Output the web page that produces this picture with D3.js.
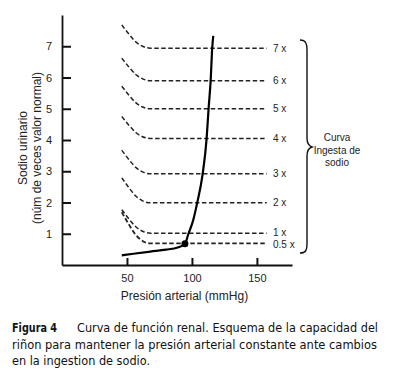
<!DOCTYPE html>
<html>
<head>
<meta charset="utf-8">
<script src="https://cdn.jsdelivr.net/npm/d3@7"></script>
<style>
  body { margin: 0; background: #fff; }
  svg { display: block; }
</style>
</head>
<body>
<svg id="chart" width="394" height="378"></svg>
<script>
// levels of sodium intake (label and where the dashed line sits)
let intakeLabels = ['7 x', '6 x', '5 x', '4 x', '3 x', '2 x', '1 x', '0.5 x']
let intakeLevels = [6.94, 5.9, 5.0, 4.05, 2.92, 1.99, 1.02, 0.69]
// how high each dashed curve starts above its level at the left
let intakeRise = [0.74, 0.72, 0.72, 0.7, 0.75, 0.8, 0.75, 1.0]
// shape of the shoulder on the left of each dashed curve (0..1 of the rise)
let shoulderP = [46, 49, 52, 57, 62, 68, 157.5]
let shoulderK = [1, 0.78, 0.57, 0.26, 0.08, 0, 0]

// renal function curve (pressure mmHg, urinary sodium)
let renalP = [46, 55, 68, 80, 89, 94.6, 97, 101, 104, 108.2, 111.3, 112.8, 114.4, 115.6, 116.4]
let renalV = [0.31, 0.36, 0.43, 0.49, 0.56, 0.67, 0.96, 1.44, 1.98, 2.9, 4.05, 5.0, 5.9, 6.94, 7.33]
let eqPoint = [94.6, 0.68]

let xTicks = [50, 100, 150]
let yTicks = [1, 2, 3, 4, 5, 6, 7]

let svg = d3.select('#chart')
let font = '"Liberation Sans", Arial, sans-serif'

let x = d3.scaleLinear().domain([0, 177]).range([62, 292])
let y = d3.scaleLinear().domain([0, 8]).range([265, 15])

// axes
let yAxis = svg.append('g').attr('transform', 'translate(' + x(0) + ',0)')
  .call(d3.axisLeft(y).tickValues(yTicks).tickSize(-9).tickSizeOuter(0).tickPadding(9).tickFormat(d3.format('d')))
let xAxis = svg.append('g').attr('transform', 'translate(0,' + y(0) + ')')
  .call(d3.axisBottom(x).tickValues(xTicks).tickSize(-7).tickSizeOuter(0).tickPadding(9))

svg.selectAll('.domain').attr('stroke', '#111').attr('stroke-width', 1.8)
svg.selectAll('.tick line').attr('stroke', '#111').attr('stroke-width', 2)
svg.selectAll('.tick text').attr('font-family', font).attr('font-size', 11).attr('fill', '#222')
yAxis.selectAll('.tick text').attr('text-anchor', 'middle').attr('dx', -4)

// dashed intake curves
let dashLine = d3.line()
  .x(d => x(d[0]))
  .y(d => y(d[1]))
  .curve(d3.curveMonotoneX)

intakeLevels.forEach((lvl, i) => {
  let pts = shoulderP.map((p, j) => [p, lvl + intakeRise[i] * shoulderK[j]])
  svg.append('path')
    .attr('d', dashLine(pts))
    .attr('fill', 'none')
    .attr('stroke', '#222')
    .attr('stroke-width', i == 7 ? 1.8 : 1.5)
    .attr('stroke-dasharray', '4.5,2.5')
})

// labels at the right of the dashed lines
let labelDy = [0, 0, 0, 0, 0, 0, -1, 1]
svg.selectAll('.lvl-label')
  .data(intakeLabels)
  .enter()
  .append('text')
  .attr('class', 'lvl-label')
  .attr('x', 273)
  .attr('y', (d, i) => y(intakeLevels[i]) + 3.5 + labelDy[i])
  .attr('font-family', font)
  .attr('font-size', 10)
  .attr('fill', '#222')
  .text(d => d)

// renal function curve
let renalLine = d3.line()
  .x((d, i) => x(renalP[i]))
  .y(d => y(d))
  .curve(d3.curveMonotoneX)

svg.append('path')
  .attr('d', renalLine(renalV))
  .attr('fill', 'none')
  .attr('stroke', '#000')
  .attr('stroke-width', 2.2)

svg.append('circle')
  .attr('cx', x(eqPoint[0]))
  .attr('cy', y(eqPoint[1]))
  .attr('r', 3.5)
  .attr('fill', '#000')

// curly brace
svg.append('path')
  .attr('d', 'M300,40 C306,40 307,44 307,50 L307,138 C307,144 309,146 312,147 C309,148 307,150 307,156 L307,244 C307,250 306,253 300,253')
  .attr('fill', 'none')
  .attr('stroke', '#111')
  .attr('stroke-width', 1.4)

let braceText = ['Curva', 'Ingesta de', 'sodio']
svg.selectAll('.brace-text')
  .data(braceText)
  .enter()
  .append('text')
  .attr('x', 337)
  .attr('y', (d, i) => 141 + i * 12.5)
  .attr('text-anchor', 'middle')
  .attr('font-family', font)
  .attr('font-size', 10)
  .attr('fill', '#222')
  .text(d => d)

// axis titles
svg.append('text')
  .attr('x', 184.5)
  .attr('y', 300)
  .attr('text-anchor', 'middle')
  .attr('font-family', font)
  .attr('font-size', 12)
  .attr('fill', '#222')
  .text('Presión arterial (mmHg)')

let yTitle = svg.append('text')
  .attr('transform', 'translate(27,148) rotate(-90)')
  .attr('text-anchor', 'middle')
  .attr('font-family', font)
  .attr('font-size', 12)
  .attr('fill', '#222')
yTitle.append('tspan').attr('x', 0).attr('y', 0).text('Sodio urinario')
yTitle.append('tspan').attr('x', 0).attr('y', 13.5).text('(núm de veces valor normal)')

// caption
let capFont = '"DejaVu Sans Condensed", "DejaVu Sans", sans-serif'
svg.append('text')
  .attr('x', 12).attr('y', 332)
  .attr('font-family', capFont).attr('font-size', 12.5).attr('font-weight', 'bold')
  .attr('textLength', 45).attr('lengthAdjust', 'spacingAndGlyphs')
  .attr('fill', '#111')
  .text('Figura 4')

let captionLines = [
  ['Curva de función renal. Esquema de la capacidad del', 77, 332, 301],
  ['riñon para mantener la presión arterial constante ante cambios', 12, 348.5, 365],
  ['en la ingestion de sodio.', 12, 365, 138]
]
captionLines.forEach(c => {
  svg.append('text')
    .attr('x', c[1]).attr('y', c[2])
    .attr('font-family', capFont).attr('font-size', 12.5)
    .attr('textLength', c[3]).attr('lengthAdjust', 'spacingAndGlyphs')
    .attr('fill', '#111')
    .text(c[0])
})
</script>
</body>
</html>
